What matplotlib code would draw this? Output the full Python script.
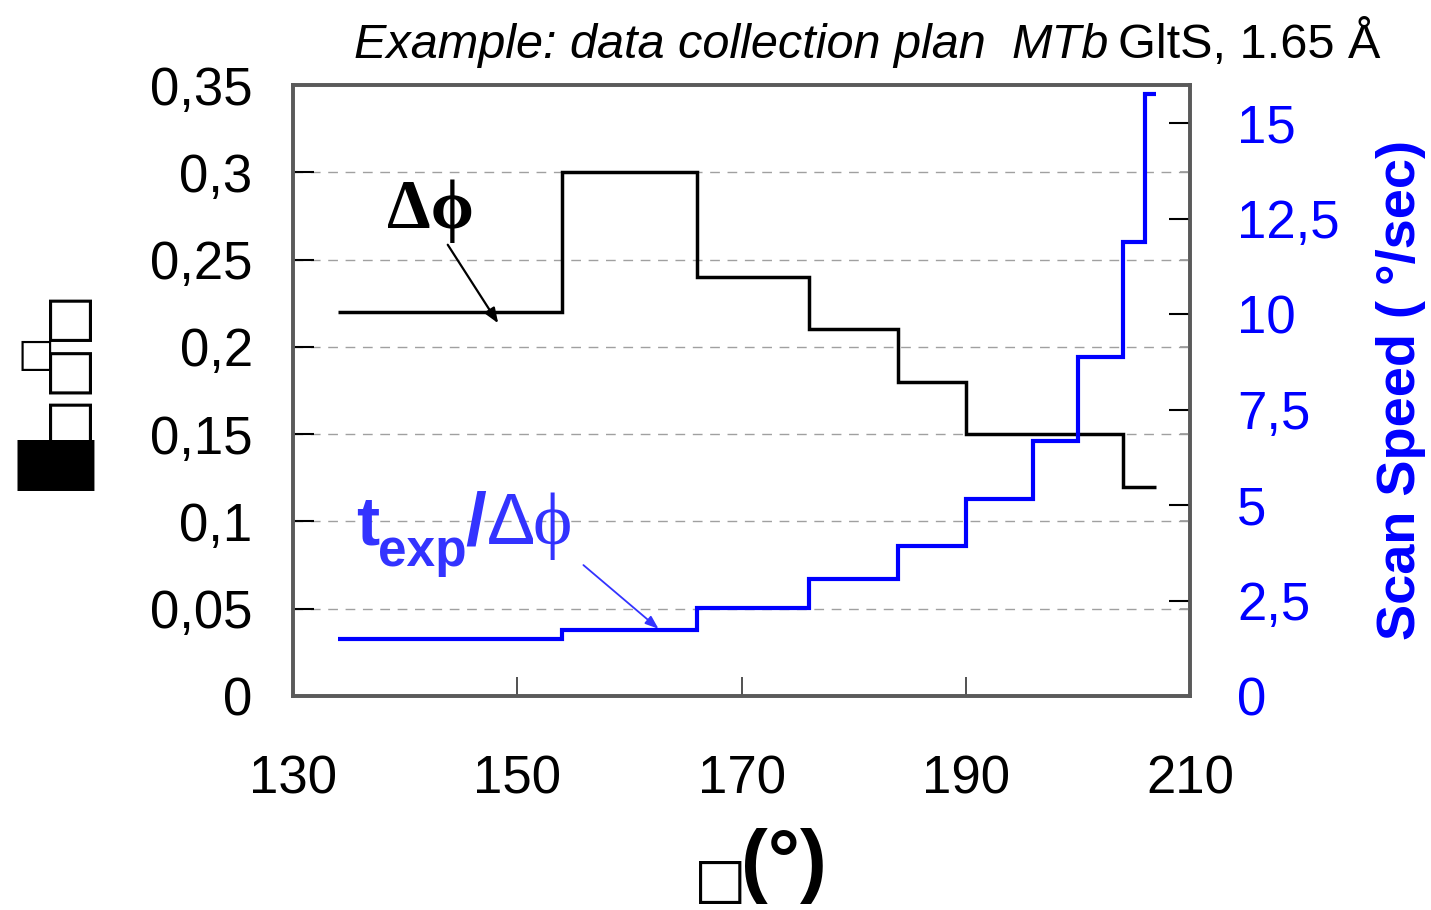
import matplotlib
matplotlib.use("Agg")
import matplotlib.pyplot as plt
from matplotlib import font_manager
import numpy as np

# Rotation-angle segments of the data collection plan
phi_edges = [134, 154, 166, 176, 184, 190, 204, 207]
delta_phi = [0.22, 0.30, 0.24, 0.21, 0.18, 0.15, 0.12]

speed_edges = [134, 154, 166, 176, 184, 190, 196, 200, 204, 206, 207]
scan_speed = [1.5, 1.72, 2.3, 3.06, 3.92, 5.15, 6.69, 8.88, 11.9, 15.76]

x_ticks = [130, 150, 170, 190, 210]
left_ticks = [0, 0.05, 0.1, 0.15, 0.2, 0.25, 0.3, 0.35]
left_labels = ["0", "0,05", "0,1", "0,15", "0,2", "0,25", "0,3", "0,35"]
right_ticks = [0, 2.5, 5, 7.5, 10, 12.5, 15]
right_labels = ["0", "2,5", "5", "7,5", "10", "12,5", "15"]

W, H = 1431, 910
names = {f.name for f in font_manager.fontManager.ttflist}
narrow = "Liberation Sans Narrow" if "Liberation Sans Narrow" in names else "Liberation Sans"
SANS = ["Liberation Sans", "DejaVu Sans"]
SERIF = ["Liberation Serif", "DejaVu Serif"]
plt.rcParams["font.family"] = SANS

BLUE = "#0000ff"
LBLUE = "#3333ff"
FRAME = "#5a5a5a"
TICK_FS = 38

fig = plt.figure(figsize=(W / 100, H / 100), dpi=100)
ax = fig.add_axes([293 / W, 1 - 696 / H, 897 / W, 611 / H])
ax2 = ax.twinx()

ax.set_xlim(130, 210)
ax.set_ylim(0, 0.35)
ax2.set_ylim(0, 16)

# dashed horizontal grid
for v in left_ticks[1:-1]:
    ax.axhline(v, color="#a0a0a0", lw=1.0, ls=(0, (7, 5.5)), zorder=0)

ax.stairs(delta_phi, phi_edges, baseline=None, color="black", lw=2.5, zorder=3)
ax2.stairs(scan_speed, speed_edges, baseline=None, color=BLUE, lw=3.0, zorder=3)

# ticks
ax.set_xticks(x_ticks)
ax.set_xticklabels([str(t) for t in x_ticks])
ax.set_yticks(left_ticks)
ax.set_yticklabels(left_labels)
ax.tick_params(axis="x", direction="in", length=14, width=1.2, color="#333333",
               labelsize=TICK_FS, pad=42)
ax.tick_params(axis="y", direction="in", length=15, width=1.5, color="black",
               labelsize=TICK_FS, pad=29, right=False)

ax2.set_yticks(right_ticks)
ax2.set_yticklabels(right_labels)
ax2.set_yticks([v * 16 / 0.35 for v in left_ticks[1:-1]], minor=True)
ax2.tick_params(axis="y", which="major", direction="in", length=15, width=1.5,
                color="black", labelsize=TICK_FS, labelcolor=BLUE, pad=34)
ax2.tick_params(axis="y", which="minor", direction="in", length=7, width=1.2,
                color="#999999")

for a in (ax, ax2):
    for s in a.spines.values():
        s.set_color(FRAME)
        s.set_linewidth(2.6)

fig.canvas.draw()
r = fig.canvas.get_renderer()


def chain(prev, text, gap_px=0, dy_px=0, **kw):
    """Place a text piece right after a previous one, on the same baseline."""
    bb = prev.get_window_extent(r)
    px, py = prev.get_transform().transform(prev.get_position())
    t = fig.text((bb.x1 + gap_px) / W, (py + dy_px) / H, text,
                 va="baseline", ha="left", **kw)
    fig.canvas.draw()
    return t


# annotations on the curves
ax.text(138.4, 0.268, "\u0394\u03d5", fontsize=50, fontweight="bold",
        family=SERIF, color="black", va="baseline", zorder=5)
ax.annotate("", xy=(148.3, 0.2135), xytext=(143.8, 0.2585),
            arrowprops=dict(arrowstyle="-|>,head_length=0.9,head_width=0.35",
                            color="black", lw=1.6, shrinkA=0, shrinkB=0))

t1 = ax.text(135.6, 0.087, "t", fontsize=50, fontweight="bold", color=LBLUE,
             va="baseline", zorder=5)
fig.canvas.draw()
t2 = chain(t1, "exp", gap_px=-1, dy_px=-22, fontsize=37, fontweight="bold", color=LBLUE)
t3 = chain(t2, "/", gap_px=-1, dy_px=22, fontsize=54, fontweight="bold", color=LBLUE)
t4 = chain(t3, "\u0394", gap_px=0, fontsize=52, color=LBLUE)
t5 = chain(t4, "\u03d5", gap_px=-2, fontsize=54, color=LBLUE, family=SERIF)
ax.annotate("", xy=(162.6, 0.0385), xytext=(155.9, 0.075),
            arrowprops=dict(arrowstyle="-|>,head_length=0.8,head_width=0.3",
                            color=LBLUE, lw=1.3, shrinkA=0, shrinkB=0))

# axis titles
fig.text(1401 / W, 1 - 390 / H, "Scan Speed ( \u00b0/sec)", rotation=90,
         fontsize=39, fontweight="bold", color=BLUE, ha="center", va="center")

fig.text(66 / W, 1 - 366 / H, "\u25a1\u25a1\u25a1", rotation=90, fontsize=40,
         family=["DejaVu Sans"], ha="center", va="center", color="black")
fig.text(36 / W, 1 - 355 / H, "\u25a1", fontsize=28, family=["DejaVu Sans"],
         ha="center", va="center", color="black")
fig.text(56 / W, 1 - 465 / H, "\u2588\u2588", fontsize=36, family=["DejaVu Sans"],
         ha="center", va="center", color="black")

fig.text(720 / W, 1 - 882 / H, "\u25a1", fontsize=40, family=["DejaVu Sans"],
         ha="center", va="center", color="black")
fig.text(741 / W, 1 - 828 / H, "(\u00b0)", fontsize=58, fontweight="bold",
         ha="left", va="top", color="black")

# title built from right to left on a shared baseline
base = 1 - 58 / H
p3 = fig.text(1380 / W, base, "GltS, 1.65 \u00c5", fontsize=35,
              family=[narrow, "DejaVu Sans"], ha="right", va="baseline")
fig.canvas.draw()
x = p3.get_window_extent(r).x0
p2 = fig.text(x / W - 0.006, base, "MTb", fontsize=35, style="italic",
              family=[narrow, "DejaVu Sans"], ha="right", va="baseline")
fig.canvas.draw()
x = p2.get_window_extent(r).x0
fig.text(x / W - 0.018, base, "Example: data collection plan", fontsize=35,
         style="italic", family=[narrow, "DejaVu Sans"], ha="right", va="baseline")

fig.savefig("out.png", dpi=100)
